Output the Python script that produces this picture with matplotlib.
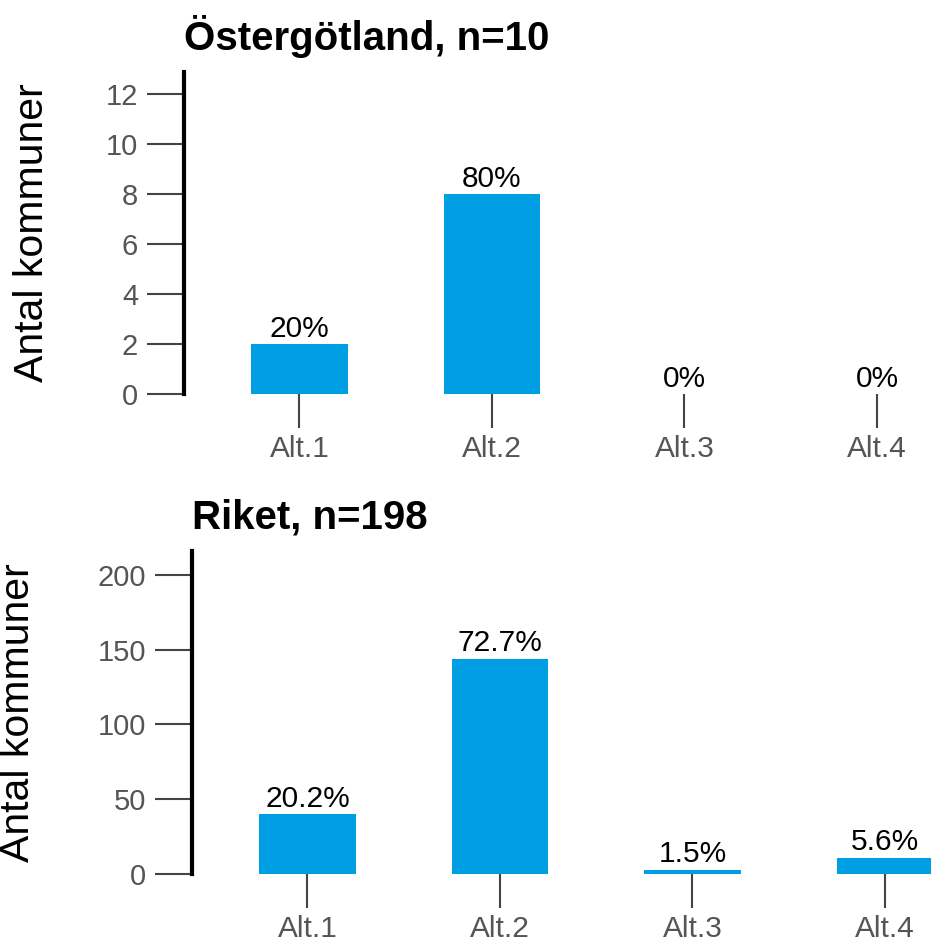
import matplotlib
matplotlib.use("Agg")
import matplotlib.pyplot as plt
import numpy as np

plt.rcParams['font.family'] = ['Liberation Sans', 'DejaVu Sans']

categories = ["Alt.1", "Alt.2", "Alt.3", "Alt.4"]

titleTop = "Östergötland, n=10"
countsTop = [2, 8, 0, 0]
pctTop = ["20%", "80%", "0%", "0%"]
ticksTop = [0, 2, 4, 6, 8, 10, 12]

titleBottom = "Riket, n=198"
countsBottom = [40, 144, 3, 11]
pctBottom = ["20.2%", "72.7%", "1.5%", "5.6%"]
ticksBottom = [0, 50, 100, 150, 200]

barColor = "#009fe3"
tickColor = "#444444"
labelColor = "#555555"

fig = plt.figure(figsize=(9.31, 9.46), dpi=100)

axTop = fig.add_axes([0.1976, 0.5835, 0.8684, 0.3404])
axBottom = fig.add_axes([0.2062, 0.0761, 0.8684, 0.3414])


def drawPanel(ax, title, counts, pcts, yticks, ytop, labelX):
    x = np.arange(len(categories))
    ax.bar(x, counts, width=0.5, color=barColor)
    for xi, c, p in zip(x, counts, pcts):
        ax.annotate(p, (xi, c), xytext=(0, 1), textcoords="offset points",
                    ha="center", va="bottom", fontsize=21.5, color="black")
    ax.set_xlim(-0.6, 3.6)
    ax.set_ylim(0, ytop)
    ax.set_yticks(yticks)
    ax.set_xticks(x)
    ax.set_xticklabels(categories)
    for s in ["top", "right", "bottom"]:
        ax.spines[s].set_visible(False)
    ax.spines["left"].set_linewidth(3)
    ax.spines["left"].set_color("black")
    ax.spines["left"].set_bounds(0, ytop)
    ax.tick_params(axis="y", direction="out", length=27, width=1.5,
                   color=tickColor, labelcolor=labelColor, labelsize=21, pad=6)
    ax.tick_params(axis="x", direction="out", length=24.5, width=1.5,
                   color=tickColor, labelcolor=labelColor, labelsize=21.5, pad=5)
    ax.set_title(title, loc="left", fontsize=29, fontweight="bold", pad=16)
    ax.set_ylabel("Antal kommuner", fontsize=29.5)
    ax.yaxis.set_label_coords(labelX, 0.5)


drawPanel(axTop, titleTop, countsTop, pctTop, ticksTop, 12.9, -0.165)
drawPanel(axBottom, titleBottom, countsBottom, pctBottom, ticksBottom, 216, -0.192)

fig.savefig("out.png", dpi=100)
